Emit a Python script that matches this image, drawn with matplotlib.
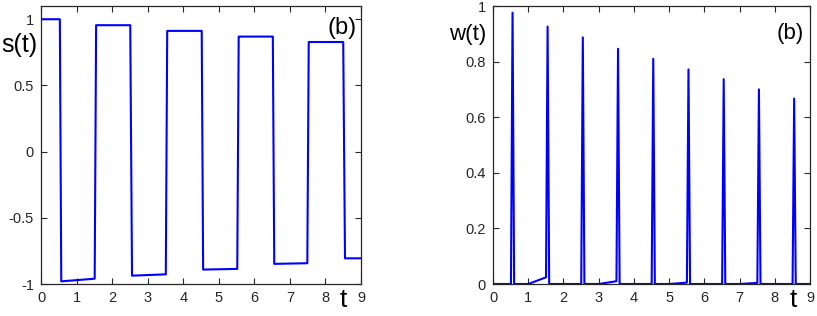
# Square-wave s(t) and spike train w(t), two panels side by side

import numpy as np
import matplotlib.pyplot as plt

plt.rcParams["font.family"] = ["Liberation Sans", "DejaVu Sans"]

# s(t): breakpoints
s_t = [0.0, 0.53, 0.57, 1.51, 1.55, 2.51, 2.56, 3.51, 3.55, 4.52,
       4.56, 5.52, 5.56, 6.52, 6.56, 7.49, 7.53, 8.50, 8.55, 9.0]
s_val = [1.0, 1.0, -0.98, -0.96, 0.955, 0.955, -0.937, -0.927, 0.912, 0.912,
         -0.891, -0.886, 0.869, 0.869, -0.848, -0.843, 0.828, 0.828, -0.806, -0.806]

# w(t): spike centres, peak heights and the small ramps before some spikes
spike_t = [0.555, 1.55, 2.55, 3.55, 4.55, 5.55, 6.55, 7.55, 8.55]
spike_h = [0.976, 0.926, 0.887, 0.846, 0.81, 0.772, 0.737, 0.70, 0.667]
ramp_start = {1: 1.0, 3: 3.0, 5: 5.0, 7: 7.0}
ramp_end = {1: 0.024, 3: 0.01, 5: 0.005, 7: 0.004}

w_t = [0.0]
w_val = [0.0]
for i, (tc, h) in enumerate(zip(spike_t, spike_h)):
    base = 0.0
    if i in ramp_start:
        w_t.append(ramp_start[i])
        w_val.append(0.0)
        base = ramp_end[i]
    w_t += [tc - 0.045, tc, tc + 0.045]
    w_val += [base, h, 0.0]
w_t.append(9.0)
w_val.append(0.0)

fig = plt.figure(figsize=(8.17, 3.16), dpi=100)
ax1 = fig.add_axes([41 / 817, 1 - 284 / 316, 320 / 817, 278 / 316])
ax2 = fig.add_axes([493 / 817, 1 - 284 / 316, 317 / 817, 278 / 316])

frame_col = "#262626"

for ax in (ax1, ax2):
    ax.set_xlim(0, 9)
    ax.set_xticks(range(10))
    ax.tick_params(direction="in", top=True, right=True, length=4,
                   labelsize=10.5, colors=frame_col, pad=5)
    for sp in ax.spines.values():
        sp.set_color(frame_col)
        sp.set_linewidth(0.9)

# left panel
ax1.plot(s_t, s_val, color="#0000ff", linewidth=1.5)
ax1.set_ylim(-1, 1.1)
ax1.set_yticks([-1, -0.5, 0, 0.5, 1])
ax1.set_yticklabels(["-1", "-0.5", "0", "0.5", "1"])
ax1.text(-0.069, 0.86, "s(t)", transform=ax1.transAxes, fontsize=18,
         ha="center", va="center")
ax1.text(0.944, -0.058, "t", transform=ax1.transAxes, fontsize=19,
         ha="center", va="center")
ax1.text(0.94, 0.92, "(b)", transform=ax1.transAxes, fontsize=17,
         ha="center", va="center")

# right panel
ax2.plot(w_t, w_val, color="#0000ff", linewidth=1.5)
ax2.set_ylim(0, 1)
ax2.set_yticks([0, 0.2, 0.4, 0.6, 0.8, 1])
ax2.set_yticklabels(["0", "0.2", "0.4", "0.6", "0.8", "1"])
ax2.text(-0.079, 0.896, "w(t)", transform=ax2.transAxes, fontsize=16,
         ha="center", va="center")
ax2.text(0.946, -0.058, "t", transform=ax2.transAxes, fontsize=19,
         ha="center", va="center")
ax2.text(0.937, 0.90, "(b)", transform=ax2.transAxes, fontsize=16,
         ha="center", va="center")

fig.savefig("out.png", dpi=100)
